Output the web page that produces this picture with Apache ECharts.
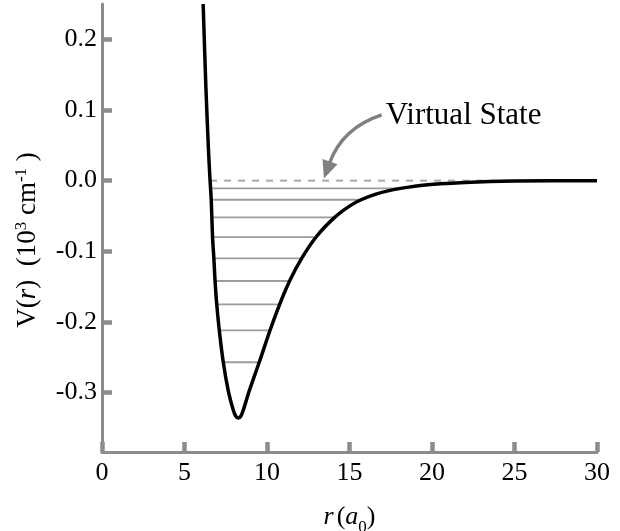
<!DOCTYPE html>
<html>
<head>
<meta charset="utf-8">
<title>Potential well with bound levels</title>
<script src="https://cdn.jsdelivr.net/npm/echarts@6/dist/echarts.min.js"></script>
<style>
  html, body { margin: 0; padding: 0; background: #fff; }
  #chart { width: 620px; height: 531px; }
</style>
</head>
<body>
<div id="chart"></div>
<script>
// Interaction potential V(r): radius in units of a0, energy in 10^3 cm^-1
const rValues = [6.13, 6.3, 6.45, 6.55, 6.62, 6.7, 6.78, 6.85, 6.95, 7.11, 7.35, 7.65, 7.96, 8.1, 8.26, 8.42,
                 8.56, 8.93, 9.53, 10.18, 10.75, 11.39, 12.1, 13.0, 14.1, 15.0, 15.7, 16.6, 17.6, 18.5, 19.3, 20.5, 22, 23.5, 25, 30];
const vValues = [0.25, 0.13, 0.045, 0.0, -0.027, -0.08, -0.11, -0.141, -0.174, -0.212, -0.257, -0.297, -0.325, -0.333, -0.336, -0.333,
                 -0.325, -0.297, -0.257, -0.212, -0.176, -0.141, -0.110, -0.079, -0.052, -0.036, -0.027, -0.019, -0.013, -0.0095, -0.007, -0.0045, -0.0025, -0.0013, -0.0006, 0.0];

// Bound vibrational levels: energy and inner / outer turning points
const levelEnergy = [-0.011, -0.027, -0.052, -0.080, -0.110, -0.142, -0.175, -0.212, -0.257];
const levelInner  = [6.58, 6.65, 6.70, 6.74, 6.79, 6.85, 6.95, 7.11, 7.35];
const levelOuter  = [18.1, 15.7, 14.1, 13.0, 12.1, 11.39, 10.75, 10.18, 9.53];

// Virtual state at threshold
const virtualEnergy = 0.0;
const virtualSpan = [6.55, 25];

// Annotation: label anchor and arrow path (start, bend, tip)
const annotationText = 'Virtual State';
const annotationAnchor = [17.2, 0.091];
const arrowStart = [16.95, 0.093];
const arrowBend = [14.56, 0.0746];
const arrowTip = [13.45, 0.003];

// Axes
const xTicks = [0, 5, 10, 15, 20, 25, 30];
const yTicks = [-0.3, -0.2, -0.1, 0.0, 0.1, 0.2];
const xRange = [0, 30];
const yRange = [-0.384, 0.25];

const SERIF = 'Liberation Serif';
const AXIS_GRAY = '#8c8c8c';

const potentialData = rValues.map((r, i) => [r, vValues[i]]);
const levelData = levelEnergy.map((e, i) => [levelInner[i], levelOuter[i], e]);

const chart = echarts.init(document.getElementById('chart'), null, { renderer: 'canvas' });

const option = {
  animation: false,
  backgroundColor: '#fff',
  textStyle: { fontFamily: SERIF },
  grid: { left: 102, right: 23, top: 4, bottom: 79, containLabel: false, outerBoundsMode: 'none' },
  xAxis: {
    type: 'value',
    min: xRange[0], max: xRange[1], interval: 5,
    name: '{i|r} {n|(}{i|a}{sub|0}{n|)}',
    nameLocation: 'middle',
    nameGap: 50,
    nameTextStyle: {
      rich: {
        i: { fontFamily: SERIF, fontSize: 26, fontStyle: 'italic', color: '#000', lineHeight: 30 },
        n: { fontFamily: SERIF, fontSize: 26, color: '#000', lineHeight: 30 },
        sub: { fontFamily: SERIF, fontSize: 17, color: '#000', lineHeight: 17, verticalAlign: 'bottom', padding: [0, 0, -4, 0] }
      }
    },
    axisLine: { onZero: false, lineStyle: { color: AXIS_GRAY, width: 3 } },
    axisTick: { inside: true, length: 10, customValues: xTicks, lineStyle: { color: AXIS_GRAY, width: 4.5 } },
    axisLabel: { customValues: xTicks, fontFamily: SERIF, fontSize: 26, color: '#000', margin: 8 },
    splitLine: { show: false }
  },
  yAxis: {
    type: 'value',
    min: yRange[0], max: yRange[1],
    axisLine: { onZero: false, lineStyle: { color: AXIS_GRAY, width: 3 } },
    axisTick: { inside: true, length: 10, customValues: yTicks, lineStyle: { color: AXIS_GRAY, width: 4.5 } },
    axisLabel: {
      customValues: yTicks,
      fontFamily: SERIF, fontSize: 26, color: '#000', margin: 5,
      formatter: v => v.toFixed(1)
    },
    splitLine: { show: false }
  },
  graphic: [{
    type: 'text',
    x: 28, y: 240,
    rotation: Math.PI / 2,
    style: {
      text: '{n|V(}{i|r}{n|)  (10}{sup|3}{n| cm}{sup|-1}{n| )}',
      align: 'center',
      verticalAlign: 'middle',
      rich: {
        n: { fontFamily: SERIF, fontSize: 27, fill: '#000', lineHeight: 30 },
        i: { fontFamily: SERIF, fontSize: 27, fontStyle: 'italic', fill: '#000', lineHeight: 30 },
        sup: { fontFamily: SERIF, fontSize: 17, fill: '#000', lineHeight: 17, verticalAlign: 'top' }
      }
    }
  }],
  series: [
    {
      // bound levels
      type: 'custom',
      z: 1,
      silent: true,
      clip: true,
      encode: { x: [0, 1], y: 2 },
      data: levelData,
      renderItem: (params, api) => {
        const a = api.coord([api.value(0), api.value(2)]);
        const b = api.coord([api.value(1), api.value(2)]);
        return {
          type: 'line',
          shape: { x1: a[0], y1: a[1], x2: b[0], y2: b[1] },
          style: { stroke: '#9c9c9c', lineWidth: 1.8 }
        };
      }
    },
    {
      // virtual state at threshold
      type: 'custom',
      z: 1,
      silent: true,
      encode: { x: [0, 1], y: 2 },
      data: [[virtualSpan[0], virtualSpan[1], virtualEnergy]],
      renderItem: (params, api) => {
        const a = api.coord([api.value(0), api.value(2)]);
        const b = api.coord([api.value(1), api.value(2)]);
        return {
          type: 'line',
          shape: { x1: a[0], y1: a[1], x2: b[0], y2: b[1] },
          style: { stroke: '#a8a8a8', lineWidth: 2, lineDash: [7, 7] }
        };
      }
    },
    {
      // potential curve
      type: 'line',
      z: 3,
      data: potentialData,
      showSymbol: false,
      smooth: 0.25,
      clip: true,
      silent: true,
      lineStyle: { color: '#000', width: 3.5 }
    },
    {
      // annotation label and curved arrow
      type: 'custom',
      z: 4,
      silent: true,
      clip: false,
      encode: { x: 0, y: 1 },
      data: [[annotationAnchor[0], annotationAnchor[1]]],
      renderItem: (params, api) => {
        const p0 = api.coord(arrowStart);
        const c = api.coord(arrowBend);
        const tip = api.coord(arrowTip);
        const dx = tip[0] - c[0], dy = tip[1] - c[1];
        const len = Math.hypot(dx, dy);
        const ux = dx / len, uy = dy / len;
        const headLen = 18, headHalf = 8;
        const base = [tip[0] - ux * headLen, tip[1] - uy * headLen];
        const left = [base[0] - uy * headHalf, base[1] + ux * headHalf];
        const right = [base[0] + uy * headHalf, base[1] - ux * headHalf];
        const lbl = api.coord([api.value(0), api.value(1)]);
        return {
          type: 'group',
          children: [
            {
              type: 'bezierCurve',
              shape: { x1: p0[0], y1: p0[1], x2: base[0] + ux * 2, y2: base[1] + uy * 2, cpx1: c[0], cpy1: c[1] },
              style: { stroke: '#808080', lineWidth: 3.5, fill: null }
            },
            {
              type: 'polygon',
              shape: { points: [tip, left, right] },
              style: { fill: '#808080' }
            },
            {
              type: 'text',
              x: lbl[0], y: lbl[1],
              style: {
                text: annotationText,
                fontFamily: SERIF,
                fontSize: 31,
                fill: '#000',
                align: 'left',
                verticalAlign: 'middle'
              }
            }
          ]
        };
      }
    }
  ]
};

chart.setOption(option);
</script>
</body>
</html>
